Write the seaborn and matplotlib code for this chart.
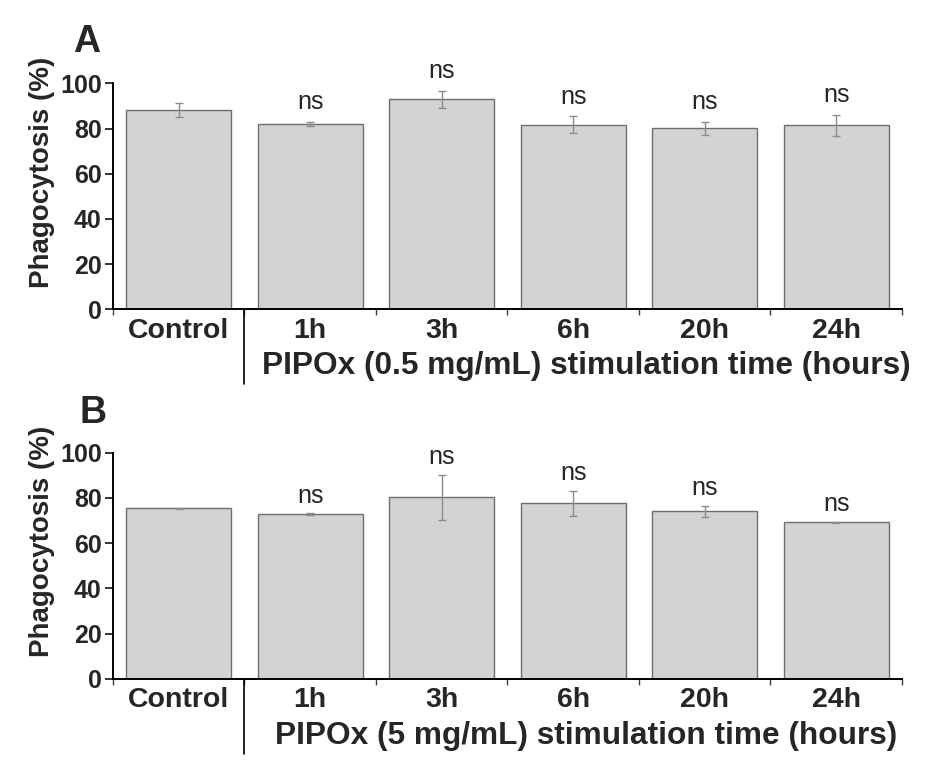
import pandas as pd
import seaborn as sns
import matplotlib.pyplot as plt

# Phagocytosis (%) after PIPOx stimulation
groups = ["Control", "1h", "3h", "6h", "20h", "24h"]
mean_a = [88.2, 82.0, 92.9, 81.7, 80.1, 81.4]
err_a = [3.2, 1.0, 3.9, 3.8, 2.9, 4.6]
mean_b = [75.4, 72.8, 80.3, 77.6, 74.1, 69.2]
err_b = [0.3, 0.4, 10.0, 5.6, 2.5, 0.3]
signif = ["", "ns", "ns", "ns", "ns", "ns"]
yticks = [0, 20, 40, 60, 80, 100]

sns.set_style("ticks")
plt.rcParams['font.family'] = ['Liberation Sans', 'DejaVu Sans']


def draw_panel(ax, means, errs, letter, letter_pos, xlabel, ns_gap):
    df = pd.DataFrame({"group": groups, "value": means})
    sns.barplot(data=df, x="group", y="value", ax=ax, color="#d3d3d3",
                saturation=1, width=0.8, edgecolor="#6e6e6e", linewidth=1.0,
                errorbar=None)
    centers = [p.get_x() + p.get_width() / 2 for p in ax.patches]
    ax.errorbar(centers, means, yerr=errs, fmt="none", ecolor="#8c8c8c",
                elinewidth=1.0, capsize=2.6, capthick=1.0)

    for x, m, e, s in zip(centers, means, errs, signif):
        if s:
            ax.annotate(s, (x, m + e), xytext=(0, ns_gap),
                        textcoords="offset points", ha="center", va="baseline",
                        fontsize=18, annotation_clip=False)

    ax.set_xlim(-0.5, 5.5)
    ax.set_ylim(0, 100)
    ax.set_yticks(yticks)
    ax.set_yticklabels([str(t) for t in yticks], fontsize=18, fontweight="bold")
    ax.set_ylabel("Phagocytosis (%)", fontsize=20, fontweight="bold")
    ax.yaxis.set_label_coords(-0.074, 0.607)
    ax.set_xlabel("")

    # category labels without tick marks, minor ticks at group boundaries
    ax.set_xticks(range(len(groups)))
    ax.set_xticklabels(groups, fontsize=20.5, fontweight="bold")
    ax.tick_params(axis="x", length=0, pad=6)
    ax.set_xticks([i - 0.5 for i in range(len(groups) + 1)], minor=True)
    ax.tick_params(axis="x", which="minor", length=4, width=1, color="#404040")
    ax.tick_params(axis="y", length=6, width=1.3, direction="out", pad=2)

    for side in ["top", "right"]:
        ax.spines[side].set_visible(False)
    for side in ["left", "bottom"]:
        ax.spines[side].set_linewidth(1.4)
        ax.spines[side].set_color("black")

    # separator between control and stimulated groups
    ax.plot([0.5, 0.5], [0, -0.33], transform=ax.get_xaxis_transform(),
            color="black", linewidth=1.2, clip_on=False)

    ax.text(3.1, -0.25, xlabel, transform=ax.get_xaxis_transform(),
            ha="center", va="center", fontsize=22.8, fontweight="bold")
    ax.text(letter_pos[0], letter_pos[1], letter, transform=ax.transAxes,
            ha="right", va="baseline", fontsize=27, fontweight="bold")


fig = plt.figure(figsize=(9.26, 7.76), dpi=100)
ax_a = fig.add_axes([0.122, 0.6014, 0.852, 0.2912])
ax_b = fig.add_axes([0.122, 0.125, 0.852, 0.2916])

draw_panel(ax_a, mean_a, err_a, "A", (-0.016, 1.137),
           "PIPOx (0.5 mg/mL) stimulation time (hours)", 9)
draw_panel(ax_b, mean_b, err_b, "B", (-0.008, 1.131),
           "PIPOx (5 mg/mL) stimulation time (hours)", 7.5)

fig.savefig("out.png", dpi=100)
plt.close(fig)
